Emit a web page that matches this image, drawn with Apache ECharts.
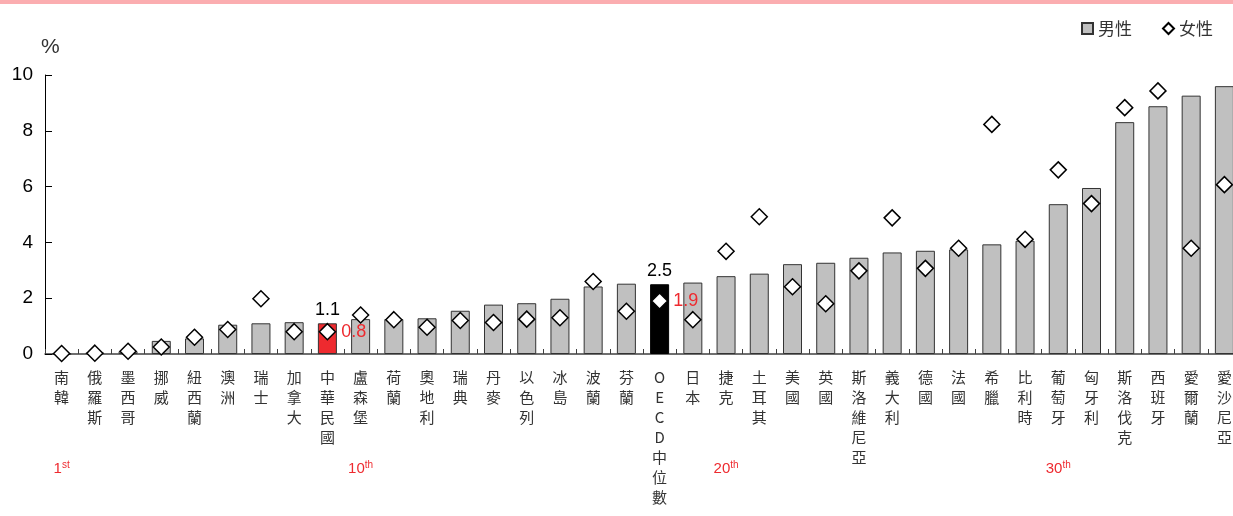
<!DOCTYPE html>
<html>
<head>
<meta charset="utf-8">
<script src="https://cdn.jsdelivr.net/npm/echarts@6/dist/echarts.min.js"></script>
<style>
html,body{margin:0;padding:0;background:#fff;overflow:hidden;width:1233px;height:516px;}
#c{width:1241px;height:516px;}
</style>
</head>
<body>
<div id="c"></div>
<script>
const categories = ['南韓','俄羅斯','墨西哥','挪威','紐西蘭','澳洲','瑞士','加拿大','中華民國','盧森堡','荷蘭','奧地利','瑞典','丹麥','以色列','冰島','波蘭','芬蘭','OECD中位數','日本','捷克','土耳其','美國','英國','斯洛維尼亞','義大利','德國','法國','希臘','比利時','葡萄牙','匈牙利','斯洛伐克','西班牙','愛爾蘭','愛沙尼亞'];
const male = [0, 0.05, 0.1, 0.47, 0.56, 1.05, 1.1, 1.14, 1.1, 1.25, 1.25, 1.28, 1.55, 1.77, 1.82, 1.98, 2.42, 2.52, 2.5, 2.56, 2.79, 2.88, 3.22, 3.27, 3.45, 3.64, 3.7, 3.75, 3.93, 4.06, 5.37, 5.95, 8.31, 8.88, 9.26, 9.6];
const female = [0.02, 0.03, 0.1, 0.25, 0.6, 0.88, 1.98, 0.8, 0.8, 1.4, 1.23, 0.96, 1.2, 1.13, 1.25, 1.3, 2.6, 1.53, 1.9, 1.23, 3.68, 4.92, 2.41, 1.8, 2.98, 4.88, 3.07, 3.79, 8.23, 4.11, 6.6, 5.39, 8.83, 9.43, 3.79, 6.07];
const rankLabels = {'南韓': ['1','st'], '盧森堡': ['10','th'], '捷克': ['20','th'], '葡萄牙': ['30','th']};
const highlightTW = '中華民國';
const highlightOECD = 'OECD中位數';
const yTicks = [0, 2, 4, 6, 8, 10];

const RED = '#ee2a2f';
const latin = 'Liberation Sans, Arial, sans-serif';
const cjk = '"Noto Sans CJK TC", "Noto Sans CJK SC", sans-serif';

const barData = male.map((v, i) => {
  const c = categories[i];
  if (c === highlightTW) return {value: v, itemStyle: {color: RED, borderColor: '#333'}, label: {show: true}};
  if (c === highlightOECD) return {value: v, itemStyle: {color: '#000', borderColor: '#000'}, label: {show: true}};
  return v;
});
const scatterData = female.map((v, i) => {
  const c = categories[i];
  if (c === highlightTW || c === highlightOECD) return {value: v, label: {show: true}};
  return v;
});

const chart = echarts.init(document.getElementById('c'), null, {renderer: 'canvas'});
chart.setOption({
  animation: false,
  backgroundColor: '#fff',
  graphic: [{type: 'rect', left: 0, top: 0, shape: {width: 1241, height: 4}, style: {fill: '#fbadb0'}}],
  legend: {
    top: 15, right: 23, itemGap: 30, itemWidth: 11, itemHeight: 11,
    textStyle: {fontSize: 17, color: '#333', fontFamily: cjk},
    data: [
      {name: '男性', icon: 'rect'},
      {name: '女性', icon: 'diamond'}
    ]
  },
  grid: {left: 45, right: 0, top: 75, bottom: 162, containLabel: false},
  xAxis: [{
    type: 'category', data: categories,
    axisLine: {lineStyle: {color: '#404040', width: 1.5}},
    axisTick: {show: true, inside: true, length: 5, lineStyle: {color: '#404040'}},
    axisLabel: {
      interval: 0, margin: 13, fontSize: 15, lineHeight: 20, color: '#333', fontFamily: cjk,
      verticalAlign: 'top',
      formatter: v => v.split('').join('\n')
    }
  }, {
    type: 'category', data: categories, position: 'bottom', offset: 106,
    axisLine: {show: false}, axisTick: {show: false},
    axisLabel: {
      interval: 0, margin: 0,
      formatter: v => rankLabels[v] ? '{n|' + rankLabels[v][0] + '}{s|' + rankLabels[v][1] + '}' : '',
      rich: {
        n: {fontSize: 15, color: RED, fontFamily: latin},
        s: {fontSize: 10, color: RED, fontFamily: latin, verticalAlign: 'top', padding: [0, 0, 8, 0]}
      }
    }
  }],
  yAxis: {
    type: 'value', min: yTicks[0], max: yTicks[yTicks.length - 1], interval: 2,
    name: '%', nameLocation: 'end', nameGap: 17,
    nameTextStyle: {fontSize: 21, color: '#333', fontFamily: latin, align: 'left', padding: [0, 0, 0, -4]},
    axisLine: {show: true, lineStyle: {color: '#000'}},
    axisTick: {show: true, inside: true, length: 7, lineStyle: {color: '#000'}},
    axisLabel: {fontSize: 19, color: '#000', fontFamily: latin, margin: 12},
    splitLine: {show: false}
  },
  series: [{
    name: '男性', type: 'bar', data: barData, barWidth: 19,
    itemStyle: {color: '#c0c0c0', borderColor: '#333', borderWidth: 1},
    label: {show: false, position: 'top', distance: 4, fontSize: 18, color: '#000', fontFamily: latin,
      formatter: p => p.value.toFixed(1)}
  }, {
    name: '女性', type: 'scatter', data: scatterData, symbol: 'diamond', symbolSize: 16,
    itemStyle: {color: '#fff', borderColor: '#000', borderWidth: 1.5, opacity: 1},
    label: {show: false, position: 'right', distance: 5, fontSize: 18, color: RED, fontFamily: latin,
      formatter: p => p.value.toFixed(1)},
    z: 3
  }]
});
</script>
</body>
</html>
